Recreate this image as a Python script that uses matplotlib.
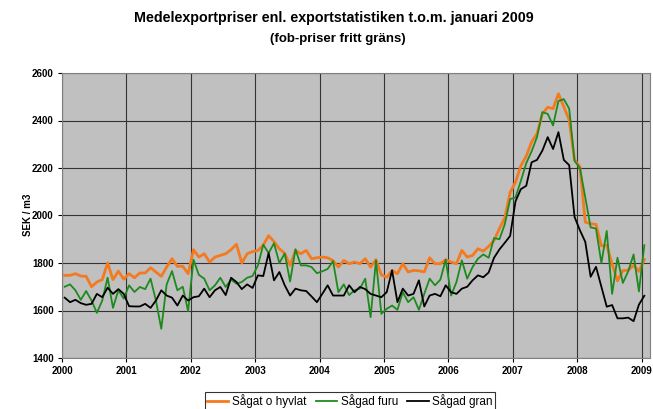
import matplotlib
matplotlib.use("Agg")
import matplotlib.pyplot as plt
import numpy as np

plt.rcParams['font.family'] = ['Liberation Sans', 'DejaVu Sans']

title_line1 = "Medelexportpriser enl. exportstatistiken t.o.m. januari 2009"
title_line2 = "(fob-priser fritt gräns)"
ylabel = "SEK / m3"
series_names = ["Sågat o hyvlat", "Sågad furu", "Sågad gran"]
year_ticks = list(range(2000, 2010))
y_ticks = list(range(1400, 2601, 200))

# Monthly values Jan 2000 .. Jan 2009
sagat_o_hyvlat = [
    1748, 1748, 1755, 1745, 1744, 1700, 1720, 1730, 1800, 1730, 1766, 1732,
    1755, 1738, 1758, 1758, 1780, 1762, 1744, 1783, 1818, 1786, 1786, 1755,
    1856, 1825, 1839, 1804, 1825, 1832, 1839, 1856, 1879, 1800, 1839, 1848,
    1853, 1875, 1915, 1890, 1860, 1840, 1790, 1853, 1839, 1853, 1818, 1822,
    1825, 1822, 1810, 1783, 1811, 1797, 1804, 1797, 1818, 1783, 1814, 1750,
    1740, 1769, 1755, 1797, 1762, 1769, 1767, 1762, 1822, 1797, 1797, 1814,
    1804, 1797, 1853, 1825, 1832, 1860, 1850, 1870, 1895, 1945, 1990, 2097,
    2140, 2210, 2250, 2310, 2344, 2428, 2456, 2450, 2513, 2458, 2402, 2234,
    2206, 1972, 1965, 1963, 1872, 1875, 1795, 1725, 1768, 1770, 1790, 1765,
    1815,
]
sagad_furu = [
    1700, 1710, 1685, 1645, 1682, 1642, 1590, 1642, 1738, 1611, 1685, 1650,
    1706, 1678, 1699, 1690, 1734, 1642, 1523, 1710, 1766, 1685, 1700, 1597,
    1814, 1750, 1734, 1685, 1706, 1738, 1699, 1730, 1713, 1720, 1738, 1745,
    1790, 1877, 1842, 1883, 1800, 1840, 1722, 1858, 1790, 1790, 1783, 1757,
    1765, 1775, 1808, 1677, 1710, 1665, 1685, 1692, 1734, 1572, 1811, 1586,
    1607, 1621, 1603, 1677, 1635, 1656, 1603, 1670, 1734, 1706, 1730, 1814,
    1663, 1720, 1811, 1734, 1783, 1818, 1836, 1822, 1905, 1900, 1963, 2069,
    2076, 2146, 2220, 2270, 2330, 2435, 2428, 2379, 2482, 2490, 2450, 2230,
    2200, 2076, 1950, 1945, 1800, 1935, 1670, 1822, 1716, 1765, 1836, 1680,
    1875,
]
sagad_gran = [
    1654, 1635, 1645, 1631, 1624, 1628, 1670, 1656, 1696, 1670, 1690, 1670,
    1618, 1617, 1617, 1628, 1611, 1642, 1685, 1663, 1654, 1621, 1663, 1642,
    1656, 1660, 1692, 1656, 1685, 1699, 1665, 1738, 1720, 1690, 1710, 1695,
    1748, 1745, 1842, 1727, 1762, 1706, 1663, 1692, 1685, 1682, 1659, 1635,
    1670, 1706, 1663, 1663, 1663, 1706, 1677, 1699, 1690, 1670, 1663, 1656,
    1677, 1769, 1635, 1692, 1663, 1670, 1727, 1617, 1663, 1670, 1660, 1706,
    1677, 1670, 1692, 1700, 1727, 1748, 1740, 1760, 1822, 1857, 1885, 1914,
    2060, 2111, 2125, 2224, 2234, 2273, 2330, 2280, 2351, 2234, 2212, 1994,
    1938, 1889, 1742, 1784, 1700, 1616, 1623, 1567, 1567, 1570, 1555, 1625,
    1662,
]

n = len(sagat_o_hyvlat)
t = 2000 + (np.arange(n) + 0.5) / 12.0

W, H = 653, 409
fig = plt.figure(figsize=(W / 100, H / 100), dpi=100)
ax = fig.add_axes([62 / W, 1 - 358 / H, (650 - 62) / W, (358 - 73) / H])
ax.set_facecolor("#C0C0C0")

ax.plot(t, sagat_o_hyvlat, color="#F47A20", lw=2.0, label=series_names[0], zorder=3)
ax.plot(t, sagad_furu, color="#1E8A1E", lw=1.3, label=series_names[1], zorder=4)
ax.plot(t, sagad_gran, color="#000000", lw=1.3, label=series_names[2], zorder=5)

ax.set_xlim(2000, 2009.13)
ax.set_ylim(1400, 2600)
ax.set_xticks(year_ticks)
ax.set_xticklabels([str(y) for y in year_ticks], fontsize=7, fontweight="bold")
ax.set_yticks(y_ticks)
ax.set_yticklabels([str(v) for v in y_ticks], fontsize=7, fontweight="bold")
ax.grid(True, color="#333333", lw=0.8)
ax.set_axisbelow(True)
ax.tick_params(length=3, width=0.8, pad=3)
for s in ax.spines.values():
    s.set_color("#808080")
    s.set_linewidth(0.8)

fig.text(28 / W, 1 - 215 / H, ylabel, rotation=90, ha="center", va="center",
         fontsize=7, fontweight="bold")
fig.text(334 / W, 1 - 18 / H, title_line1, ha="center", va="center",
         fontsize=10.3, fontweight="bold")
fig.text(338 / W, 1 - 39 / H, title_line2, ha="center", va="center",
         fontsize=9.5, fontweight="bold")

leg = fig.legend(loc="center", bbox_to_anchor=(350 / W, 1 - 401 / H), ncol=3,
                 fontsize=8.5, frameon=True, fancybox=False, handlelength=1.8,
                 handletextpad=0.3, columnspacing=0.8, borderpad=0.2,
                 borderaxespad=0)
leg.get_frame().set_edgecolor("black")
leg.get_frame().set_linewidth(0.8)

fig.savefig("out.png", dpi=100)
